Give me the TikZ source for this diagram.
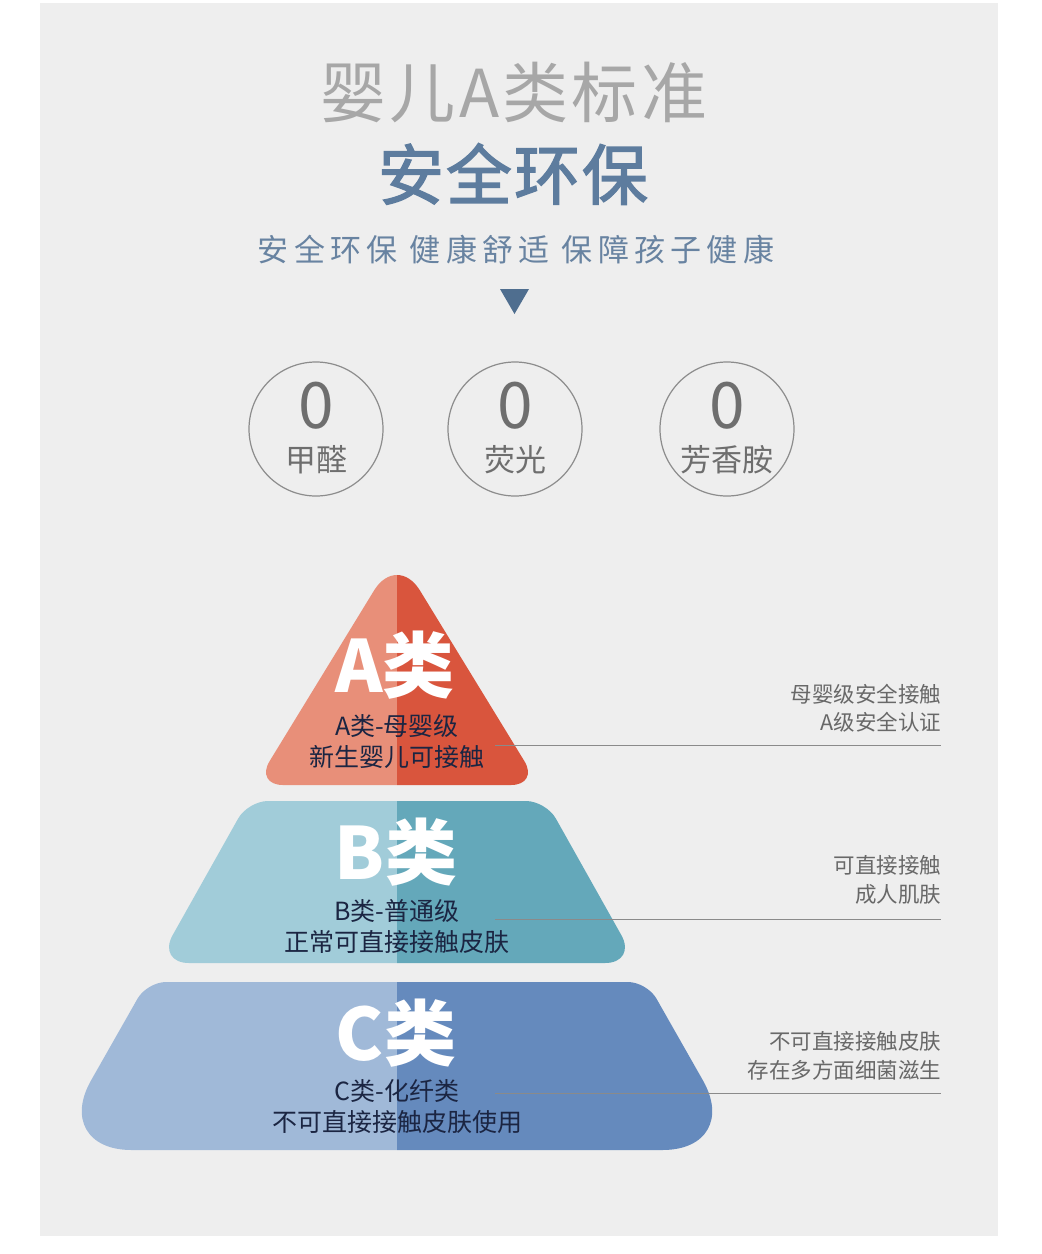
\documentclass[tikz,border=0pt]{standalone}
\usepackage{fontspec}
\setmainfont{Noto Sans CJK SC}
\definecolor{pagebg}{HTML}{EEEEEE}
\definecolor{titlegray}{HTML}{A7A7A7}
\definecolor{titleblue}{HTML}{5D7C9E}
\definecolor{subblue}{HTML}{6883A1}
\definecolor{triblue}{HTML}{4F6E8F}
\definecolor{ringgray}{HTML}{8C8C8C}
\definecolor{numgray}{HTML}{6E6E6E}
\definecolor{Alight}{HTML}{E88F79}
\definecolor{Adark}{HTML}{D9553D}
\definecolor{Blight}{HTML}{A1CCD9}
\definecolor{Bdark}{HTML}{64A8BA}
\definecolor{Clight}{HTML}{A0B9D8}
\definecolor{Cdark}{HTML}{658ABD}
\definecolor{navytext}{HTML}{1B2542}
\definecolor{sidegray}{HTML}{686868}
\definecolor{linegray}{HTML}{8A8A8A}
\newcommand\pxfont[2]{\fontsize{#1}{#2}\selectfont}
\def\shA{(397,785) [rounded corners=28pt] -- (255,785) [rounded corners=44pt] -- (397,553) [rounded corners=28pt] -- (539,785) -- cycle}
\def\shB{(397,963) [rounded corners=32pt] -- (157,963) [rounded corners=20pt] -- (248,801) -- (546,801) [rounded corners=32pt] -- (637,963) -- cycle}
\def\shC{(397,1150) [rounded corners=80pt] -- (51.5,1150) [rounded corners=19pt] -- (147,982) -- (647,982) [rounded corners=80pt] -- (742.5,1150) -- cycle}
\begin{document}
\begin{tikzpicture}[x=1pt,y=-1pt,
  txt/.style={inner sep=0pt, outer sep=0pt},
  ring/.style={circle, draw=ringgray, line width=1.2pt, minimum size=134pt, inner sep=0pt},
  zero/.style={txt, text=numgray, font=\pxfont{64}{64}},
  ringlabel/.style={txt, text=numgray, font=\pxfont{31}{31}},
  pyrbig/.style={txt, text=white, font=\bfseries\pxfont{72}{72}},
  pyrsmall/.style={txt, text=navytext, align=center, font=\pxfont{25}{31}},
  side/.style={txt, text=sidegray, align=right, anchor=east, font=\pxfont{21.5}{28.5}},
  leader/.style={draw=linegray, line width=1pt}]
\useasboundingbox (0,0) rectangle (1042,1254);
\fill[white] (0,0) rectangle (1042,1254);
\fill[pagebg] (40,3) rectangle (998,1236);
% titles
\node[txt, text=titlegray, font=\pxfont{66}{66}\addfontfeature{LetterSpace=5}] (t1) at (514,92) {婴儿A类标准};
\node[txt, text=titleblue, font=\pxfont{66}{66}\addfontfeature{LetterSpace=3,FakeBold=2}] (t2) at (513,174) {安全环保};
\node[txt, text=subblue, font=\pxfont{31}{31}\addfontfeature{LetterSpace=17}] (t3) at (516,250) {安全环保 健康舒适 保障孩子健康};
\fill[triblue] (500,289) -- (529,289) -- (514.5,314) -- cycle;
% rings
\node[ring] (c1) at (316,429) {};
\node[ring] (c2) at (515,429) {};
\node[ring] (c3) at (727,429) {};
\node[zero] (z1) at (316,406) {0};
\node[zero] (z2) at (515,406) {0};
\node[zero] (z3) at (727,406) {0};
\node[ringlabel] (l1) at (316,460) {甲醛};
\node[ringlabel] (l2) at (515,460) {荧光};
\node[ringlabel] (l3) at (727,460) {芳香胺};
% pyramid
\begin{scope}
\clip \shA;
\fill[Alight] (0,540) rectangle (397,800);
\fill[Adark] (397,540) rectangle (700,800);
\end{scope}
\begin{scope}
\clip \shB;
\fill[Blight] (0,790) rectangle (397,980);
\fill[Bdark] (397,790) rectangle (700,980);
\end{scope}
\begin{scope}
\clip \shC;
\fill[Clight] (0,970) rectangle (397,1160);
\fill[Cdark] (397,970) rectangle (800,1160);
\end{scope}
\node[pyrbig] (a1) at (395,665) {A类};
\node[pyrsmall] (a2) at (397,742) {A类-母婴级\\新生婴儿可接触};
\node[pyrbig] (b1) at (396,852) {B类};
\node[pyrsmall] (b2) at (397,926) {B类-普通级\\正常可直接接触皮肤};
\node[pyrbig] (cc1) at (396,1033) {C类};
\node[pyrsmall] (cc2) at (397,1107) {C类-化纤类\\不可直接接触皮肤使用};
% side notes
\node[side] (rA) at (941,708) {母婴级安全接触\\A级安全认证};
\node[side] (rB) at (941,880) {可直接接触\\成人肌肤};
\node[side] (rC) at (941,1056) {不可直接接触皮肤\\存在多方面细菌滋生};
\coordinate (lAs) at (495,745); \coordinate (lAe) at (941,745);
\coordinate (lBs) at (495,919); \coordinate (lBe) at (941,919);
\coordinate (lCs) at (495,1093); \coordinate (lCe) at (941,1093);
\draw[leader] (lAs) -- (lAe);
\draw[leader] (lBs) -- (lBe);
\draw[leader] (lCs) -- (lCe);
\end{tikzpicture}
\end{document}
